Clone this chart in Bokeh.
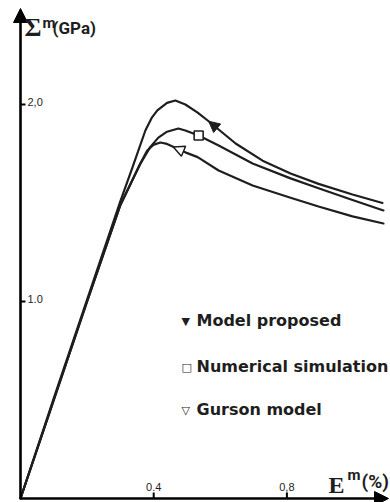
import math
from bokeh.plotting import figure
from bokeh.models import Range1d, Arrow, NormalHead, Label
from bokeh.core.properties import value
from bokeh.embed import file_html
from bokeh.resources import INLINE

# ---- data (strain in %, stress in GPa) ----
model_x = [0, 0.10, 0.20, 0.30, 0.336, 0.375, 0.395, 0.411, 0.44, 0.465, 0.495, 0.532, 0.565, 0.646, 0.727, 0.811, 0.895, 0.997, 1.087]
model_y = [0, 0.51, 1.01, 1.51, 1.68, 1.868, 1.935, 1.970, 2.008, 2.020, 2.000, 1.959, 1.915, 1.802, 1.715, 1.650, 1.597, 1.543, 1.500]

num_x = [0, 0.10, 0.20, 0.30, 0.36, 0.39, 0.414, 0.44, 0.474, 0.495, 0.535, 0.595, 0.697, 0.811, 0.895, 0.997, 1.090]
num_y = [0, 0.50, 1.00, 1.49, 1.70, 1.785, 1.832, 1.862, 1.878, 1.868, 1.843, 1.792, 1.701, 1.625, 1.575, 1.515, 1.462]

gur_x = [0, 0.10, 0.20, 0.30, 0.36, 0.38, 0.399, 0.420, 0.44, 0.465, 0.495, 0.532, 0.595, 0.697, 0.811, 0.895, 0.997, 1.090]
gur_y = [0, 0.50, 1.00, 1.49, 1.70, 1.765, 1.795, 1.807, 1.800, 1.780, 1.757, 1.733, 1.665, 1.589, 1.527, 1.482, 1.432, 1.396]

# marker positions on the curves (arrow-like markers point back along the curve)
model_mark = (0.565, 1.915)
model_mark_from = (0.646, 1.802)
num_mark = (0.535, 1.843)
gur_mark = (0.459, 1.784)
gur_mark_from = (0.532, 1.733)

y_ticks = [1.0, 2.0]
y_tick_labels = ["1.0", "2,0"]
x_ticks = [0.4, 0.8]
x_tick_labels = ["0.4", "0,8"]

legend_labels = ["Model proposed", "Numerical simulation", "Gurson model"]
legend_symbols = ["\u25BC", "\u25A1", "\u25BD"]

# ---- layout ----
W, H = 390, 502
X0PX, Y0PX = 20, 498      # pixel of the origin
XS, YS = 333.0, 197.0     # pixels per unit
x_tip = (388 - X0PX) / XS
y_tip = (Y0PX - 8) / YS

p = figure(width=W, height=H, output_backend="svg", toolbar_location=None,
           x_range=Range1d(-X0PX / XS, (W - X0PX) / XS),
           y_range=Range1d(-(H - Y0PX) / YS, Y0PX / YS),
           x_axis_location=None, y_axis_location=None,
           min_border=0, outline_line_color=None,
           background_fill_color="white", border_fill_color="white")
p.xgrid.visible = False
p.ygrid.visible = False

ink = "#1e1e1e"

# axes with arrow heads
p.add_layout(Arrow(end=NormalHead(size=14, fill_color="black", line_color="black", line_width=1),
                   x_start=0, y_start=0, x_end=0, y_end=y_tip, line_width=2.6, line_color="black"))
p.add_layout(Arrow(end=NormalHead(size=14, fill_color="black", line_color="black", line_width=1),
                   x_start=0, y_start=0, x_end=x_tip, y_end=0, line_width=2.6, line_color="black"))

# ticks
p.ray(x=[0] * len(y_ticks), y=y_ticks, length=5, length_units="screen", angle=0,
      line_width=2, line_color="black")
p.ray(x=x_ticks, y=[0] * len(x_ticks), length=6, length_units="screen", angle=math.pi / 2,
      line_width=2, line_color="black")

p.text(x=[0] * len(y_ticks), y=y_ticks, text=y_tick_labels, x_offset=7, y_offset=-3,
       text_font=value("Liberation Sans"), text_font_size="11px", text_color=ink,
       text_align="left", text_baseline="middle")
p.text(x=x_ticks, y=[0] * len(x_ticks), text=x_tick_labels, x_offset=0, y_offset=-12,
       text_font=value("Liberation Sans"), text_font_size="11px", text_color=ink,
       text_align="center", text_baseline="middle")

# curves
for xs, ys in [(model_x, model_y), (num_x, num_y), (gur_x, gur_y)]:
    p.line(xs, ys, line_color=ink, line_width=2.2, line_join="round", line_cap="round")

# arrow-head markers
p.add_layout(Arrow(end=NormalHead(size=11, fill_color=ink, line_color=ink, line_width=1),
                   x_start=model_mark_from[0], y_start=model_mark_from[1],
                   x_end=model_mark[0], y_end=model_mark[1], line_alpha=0))
p.add_layout(Arrow(end=NormalHead(size=11, fill_color="white", line_color=ink, line_width=1.5),
                   x_start=gur_mark_from[0], y_start=gur_mark_from[1],
                   x_end=gur_mark[0], y_end=gur_mark[1], line_alpha=0))
p.scatter([num_mark[0]], [num_mark[1]], marker="square", size=9,
          fill_color="white", line_color=ink, line_width=1.6)

def lab(text, x, y, font, size, style="normal", align="left"):
    p.add_layout(Label(x=x, y=H - y, x_units="screen", y_units="screen", text=text,
                       text_font=font, text_font_size=size, text_font_style=style,
                       text_color=ink, text_align=align, text_baseline="middle"))

# axis titles
lab("\u03A3", 24, 27, "Liberation Serif", "26px", "bold")
lab("m", 42, 22, "Roboto", "15px", "bold")
lab("(GPa)", 52, 27, "Roboto", "17px", "bold")

lab("E", 328, 484, "Liberation Serif", "24px", "bold")
lab("m", 347, 474, "Roboto", "15px", "bold")
lab("(%)", 361, 481, "Roboto", "19px", "bold")

# legend
leg_y = [320, 366, 409]
for sym, txt, yy in zip(legend_symbols, legend_labels, leg_y):
    lab(sym, 181, yy + 1, "DejaVu Sans", "11px")
    lab(txt, 196, yy, "DejaVu Sans", "16px", "bold")

open("out.html", "w").write(file_html(p, INLINE))
